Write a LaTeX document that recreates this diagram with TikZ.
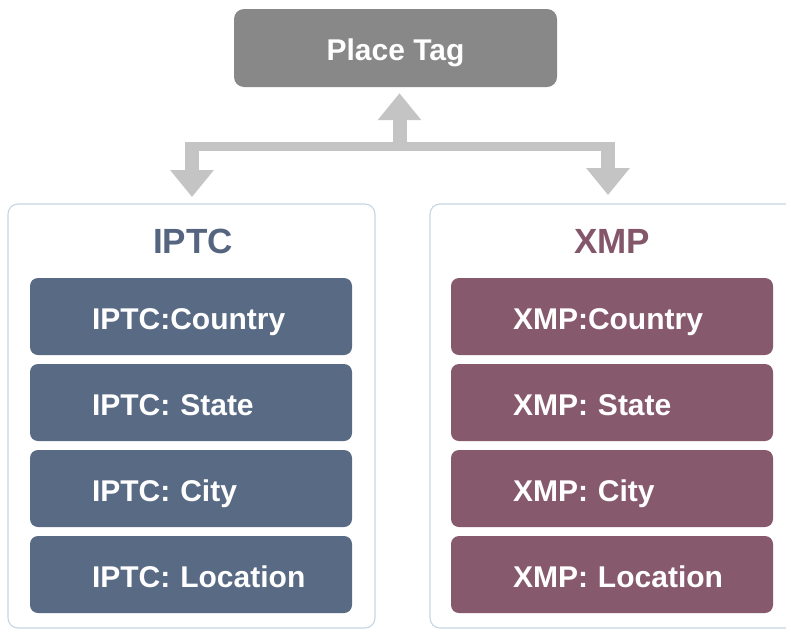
\documentclass[tikz,border=0pt]{standalone}
\usepackage{fontspec}
\setmainfont{Liberation Sans}
\usetikzlibrary{arrows.meta}
\definecolor{tagfill}{HTML}{888888}
\definecolor{arrowgray}{HTML}{C4C4C4}
\definecolor{panelline}{HTML}{C8D5E2}
\definecolor{iptcblue}{HTML}{586A84}
\definecolor{xmpred}{HTML}{87596D}
\definecolor{iptctitle}{HTML}{55657F}
\definecolor{xmptitle}{HTML}{84566A}
\tikzset{
  tagbox/.style={fill=tagfill, rounded corners=10pt, minimum width=323pt, minimum height=78pt,
    inner sep=0pt, text=white, text height=24pt, text depth=0pt,
    font=\bfseries\fontsize{30}{36}\selectfont},
  panel/.style={draw=panelline, line width=1.1pt, fill=white, rounded corners=10pt},
  title/.style={font=\bfseries\fontsize{35}{42}\selectfont, inner sep=0pt, text height=26pt, text depth=0pt},
  field/.style={rounded corners=8pt, minimum height=77pt, text width=322pt, inner xsep=0pt,
    inner ysep=0pt, align=left, text=white, text height=25pt, text depth=0pt,
    font=\bfseries\fontsize{30}{36}\selectfont,
    execute at begin node={\hspace*{62pt}}},
  iptcfield/.style={field, fill=iptcblue},
  xmpfield/.style={field, fill=xmpred},
  stem/.style={draw=arrowgray, line width=14pt, -{Triangle[width=42pt,length=27pt]}},
  bar/.style={draw=arrowgray, line width=8.5pt},
}
\begin{document}
\begin{tikzpicture}[x=1pt,y=-1pt]
\clip (0,0) rectangle (786,630);
\fill[white] (0,0) rectangle (786,630);
% top node
\node[tagbox] (tag) at (395.5,48) {Place Tag};
% panels
\draw[panel] (8,204) rectangle (375,628);
\draw[panel] (430,204) rectangle (810,628);
\node[title, text=iptctitle] (iptc) at (193,240) {IPTC};
\node[title, text=xmptitle] (xmp) at (612,240) {XMP};
% connectors
\coordinate (jl) at (192,146.5);
\coordinate (jr) at (608,146.5);
\coordinate (jlt) at (192,142.3);
\coordinate (jrt) at (608,142.3);
\coordinate (jct) at (399.5,150.5);
\coordinate (lt) at (192,197);
\coordinate (rt) at (608,195);
\draw[bar] (jl) -- (jr);
\draw[stem, shorten >=6pt] (jct) -- (jct |- tag.south);
\draw[stem] (jlt) -- (lt);
\draw[stem] (jrt) -- (rt);
% fields
\node[iptcfield] (ic) at (191,316.5) {IPTC:Country};
\node[iptcfield] (is) at (191,402.5) {IPTC: State};
\node[iptcfield] (ici) at (191,488.5) {IPTC: City};
\node[iptcfield] (il) at (191,574.5) {IPTC: Location};
\node[xmpfield] (xc) at (612,316.5) {XMP:Country};
\node[xmpfield] (xs) at (612,402.5) {XMP: State};
\node[xmpfield] (xci) at (612,488.5) {XMP: City};
\node[xmpfield] (xl) at (612,574.5) {XMP: Location};
\end{tikzpicture}
\end{document}
